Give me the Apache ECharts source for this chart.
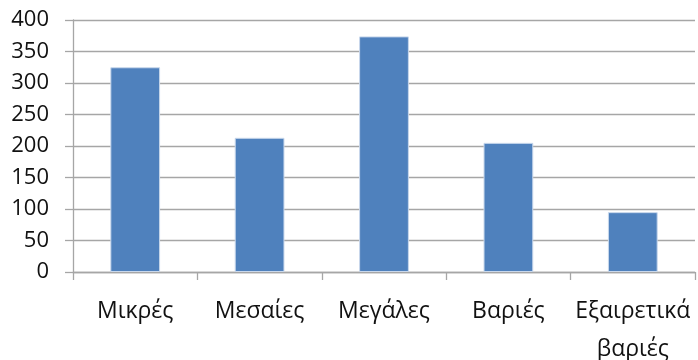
<!DOCTYPE html>
<html>
<head>
<meta charset="utf-8">
<script src="https://cdn.jsdelivr.net/npm/echarts@6/dist/echarts.min.js"></script>
<style>
  html, body { margin: 0; padding: 0; background: #fff; }
  #chart { width: 698px; height: 360px; }
</style>
</head>
<body>
<div id="chart"></div>
<script>
// Vehicle categories and their counts
const categories = ['Μικρές', 'Μεσαίες', 'Μεγάλες', 'Βαριές', 'Εξαιρετικά\nβαριές'];
const values = [325, 213, 374, 205, 95];

const axisGray = '#a6a6a6';
const textFont = 'Open Sans';

const chart = echarts.init(document.getElementById('chart'), null, { renderer: 'canvas' });
chart.setOption({
  animation: false,
  grid: { left: 73, right: 3, top: 20, bottom: 88, containLabel: false, outerBoundsMode: 'none' },
  xAxis: {
    type: 'category',
    data: categories,
    axisLine: { show: true, lineStyle: { color: axisGray, width: 1.3 } },
    axisTick: { show: true, length: 8, alignWithLabel: false, lineStyle: { color: axisGray, width: 1.3 } },
    axisLabel: {
      interval: 0,
      margin: 20,
      color: '#111',
      fontFamily: textFont,
      fontSize: 23,
      lineHeight: 38
    },
    splitLine: { show: false }
  },
  yAxis: {
    type: 'value',
    min: 0,
    max: 400,
    interval: 50,
    axisLine: { show: true, lineStyle: { color: axisGray, width: 1.3 } },
    axisTick: { show: true, length: 8, lineStyle: { color: axisGray, width: 1.3 } },
    axisLabel: {
      margin: 24,
      color: '#111',
      fontFamily: textFont,
      fontSize: 22
    },
    splitLine: { show: true, lineStyle: { color: axisGray, width: 1.3 } }
  },
  series: [{
    type: 'bar',
    data: values,
    barWidth: '40%',
    itemStyle: { color: '#4f81bd', borderColor: '#c9d8ec', borderWidth: 1 }
  }]
});
</script>
</body>
</html>
